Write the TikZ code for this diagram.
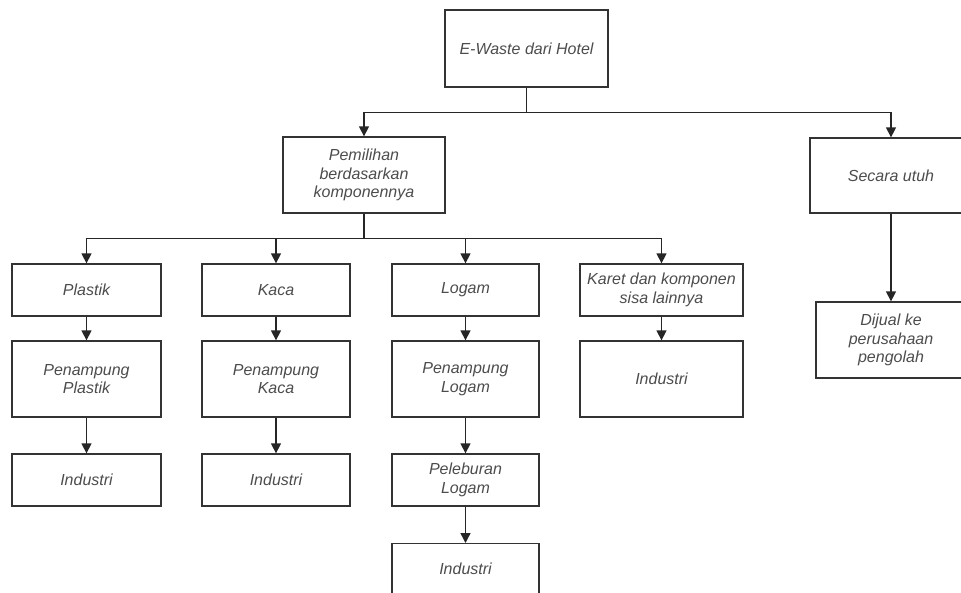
\documentclass[tikz,border=0pt]{standalone}
\usepackage{fontspec}
\setmainfont{Liberation Sans}
\usetikzlibrary{arrows.meta}

\begin{document}
\begin{tikzpicture}[x=1pt,y=-1pt,
  box/.style={draw=black!80,line width=1.3pt,rectangle,inner sep=0pt,align=center,
    text=black!70,font=\fontsize{16}{18.5}\selectfont\itshape},
  link/.style={draw=black!85,line width=1.4pt,-{Triangle[length=10pt,width=10pt]}}]
\useasboundingbox (0,0) rectangle (961,593);
\node[box,minimum width=163,minimum height=77] (HOTEL) at (526.5,48.5) {E-Waste dari Hotel};
\node[box,minimum width=162,minimum height=76] (PILIH) at (364,175) {Pemilihan\\berdasarkan\\komponennya};
\node[box,minimum width=162,minimum height=75] (UTUH) at (891,175.5) {Secara utuh};
\node[box,minimum width=150,minimum height=76] (DIJUAL) at (891,340) {Dijual ke\\perusahaan\\pengolah};
\node[box,minimum width=149,minimum height=52] (PLASTIK) at (86.5,290) {Plastik};
\node[box,minimum width=149,minimum height=76] (TPLASTIK) at (86.5,379) {Penampung\\Plastik};
\node[box,minimum width=149,minimum height=52] (INDPLASTIK) at (86.5,480) {Industri};
\node[box,minimum width=148,minimum height=52] (KACA) at (276,290) {Kaca};
\node[box,minimum width=148,minimum height=76] (TKACA) at (276,379) {Penampung\\Kaca};
\node[box,minimum width=148,minimum height=52] (INDKACA) at (276,480) {Industri};
\node[box,minimum width=147,minimum height=52] (LOGAM) at (465.5,290) {Logam};
\node[box,minimum width=147,minimum height=76] (TLOGAM) at (465.5,379) {Penampung\\Logam};
\node[box,minimum width=147,minimum height=52] (LEBUR) at (465.5,480) {Peleburan\\Logam};
\node[box,minimum width=147,minimum height=62,anchor=north] (INDLOGAM) at (465.5,543) {\raisebox{12pt}{Industri}};
\node[box,minimum width=163,minimum height=52] (KARET) at (661.5,290) {Karet dan komponen\\sisa lainnya};
\node[box,minimum width=163,minimum height=76] (INDKARET) at (661.5,379) {Industri};
\coordinate (BAGI) at (526.5,112.5);
\coordinate (CABANG) at (364,238.5);
\draw[link,-] (HOTEL) -- (BAGI);
\draw[link] (BAGI) -| (PILIH);
\draw[link] (BAGI) -| (UTUH);
\draw[link] (UTUH) -- (DIJUAL);
\draw[link,-] (PILIH) -- (CABANG);
\draw[link] (CABANG) -| (PLASTIK);
\draw[link] (CABANG) -| (KACA);
\draw[link] (CABANG) -| (LOGAM);
\draw[link] (CABANG) -| (KARET);
\draw[link] (PLASTIK) -- (TPLASTIK);
\draw[link] (TPLASTIK) -- (INDPLASTIK);
\draw[link] (KACA) -- (TKACA);
\draw[link] (TKACA) -- (INDKACA);
\draw[link] (LOGAM) -- (TLOGAM);
\draw[link] (TLOGAM) -- (LEBUR);
\draw[link] (LEBUR) -- (INDLOGAM);
\draw[link] (KARET) -- (INDKARET);
\end{tikzpicture}
\end{document}
